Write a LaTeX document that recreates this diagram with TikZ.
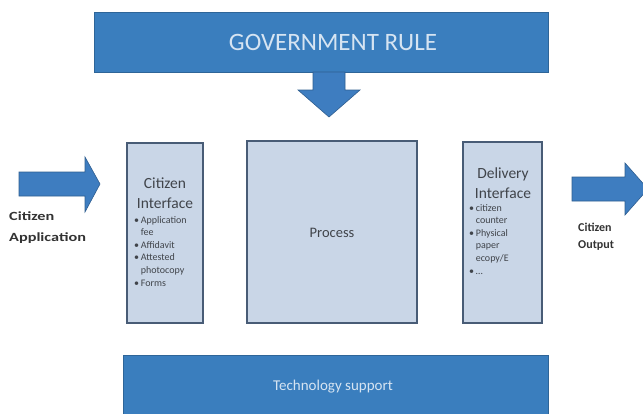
\documentclass[tikz,border=0pt]{standalone}
\usepackage{fontspec}
\setmainfont{Carlito}
\definecolor{bandeau}{RGB}{58,126,190}
\definecolor{fleche}{RGB}{62,125,192}
\definecolor{boite}{RGB}{201,214,231}
\definecolor{bord}{RGB}{72,92,118}
\definecolor{texteclair}{RGB}{214,228,242}
\definecolor{textesombre}{RGB}{64,68,74}
\tikzset{
  band/.style={fill=bandeau,draw=bandeau!80!black,line width=0.6pt},
  arrowshape/.style={fill=fleche,draw=fleche!75!black,line width=0.6pt},
  panel/.style={fill=boite,draw=bord,line width=1.6pt},
  lbl/.style={inner sep=0pt,text=textesombre,align=left,anchor=north west}
}
\begin{document}
\begin{tikzpicture}[x=1pt,y=-1pt]
\useasboundingbox[fill=white] (0,0) rectangle (643,413);

% Bandeau du haut et fleche vers le bas
\draw[band] (94,12) rectangle (548,72);
\node[text=texteclair,font=\fontsize{25}{27}\selectfont] (gov) at (333,42) {GOVERNMENT RULE};
\filldraw[arrowshape] (313,72) -- (345,72) -- (345,90) -- (360,90) -- (329,117) -- (298,90) -- (313,90) -- cycle;

% Fleche d'entree (a gauche)
\filldraw[arrowshape] (19,172) -- (85,172) -- (85,157) -- (100,184) -- (85,212) -- (85,196) -- (19,196) -- cycle;
\node[lbl,text=black!80,font=\fontsize{12.5}{21}\selectfont\bfseries] (app) at (9,212) {\scalebox{1.3}[1]{Citizen}\\\scalebox{1.3}[1]{Application}};

% Fleche de sortie (a droite)
\filldraw[arrowshape] (572,177) -- (625,177) -- (625,163) -- (648,189) -- (625,215) -- (625,201) -- (572,201) -- cycle;
\node[lbl,text=black!80,font=\fontsize{12}{17}\selectfont\bfseries] (out) at (578,223) {Citizen\\Output};

% Les trois boites
\draw[panel] (127,143) rectangle (203,323);
\draw[panel] (247,141) rectangle (417,323);
\draw[panel] (463,142) rectangle (542,323);

\node[text=textesombre,font=\fontsize{15.5}{20}\selectfont,align=center] (ci) at (165,193) {Citizen\\Interface};
\node[lbl,font=\fontsize{10}{12.6}\selectfont] (ciItems) at (134,214)
  {\begin{tabular}{@{}l@{\,}l@{}}
   • & Application\\ & fee\\
   • & Affidavit\\
   • & Attested\\ & photocopy\\
   • & Forms
   \end{tabular}};

\node[text=textesombre,font=\fontsize{14.5}{16}\selectfont] (proc) at (332,233) {Process};

\node[text=textesombre,font=\fontsize{15.5}{20}\selectfont,align=center] (di) at (503,183) {Delivery\\Interface};
\node[lbl,font=\fontsize{10}{12.6}\selectfont] (diItems) at (469,202)
  {\begin{tabular}{@{}l@{\,}l@{}}
   • & citizen\\ & counter\\
   • & Physical\\ & paper\\ & ecopy/E\\
   • & \ldots
   \end{tabular}};

% Bandeau du bas
\draw[band] (123,355) rectangle (548,420);
\node[text=texteclair,font=\fontsize{15}{17}\selectfont] (tech) at (333,387) {Technology support};

\end{tikzpicture}
\end{document}
